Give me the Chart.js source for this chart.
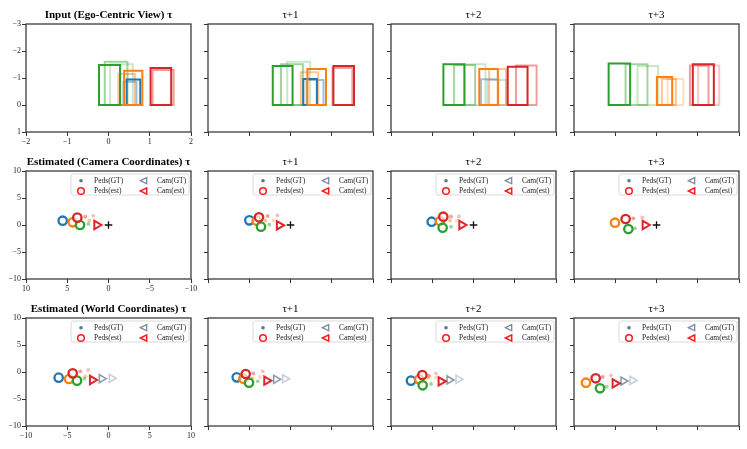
<!DOCTYPE html>
<html>
<head>
<meta charset="utf-8">
<script src="https://cdn.jsdelivr.net/npm/chart.js@4.4.1/dist/chart.umd.min.js"></script>
<style>
  body { margin: 0; background: #fff; }
  #page { position: relative; width: 747px; height: 449px; overflow: hidden; background: #fff;
          font-family: "Liberation Serif", "DejaVu Serif", serif; }
  #page canvas { position: absolute; }
  .ttl { position: absolute; width: 165px; text-align: center; font-size: 11px; line-height: 12px;
         color: #000; white-space: nowrap; }
</style>
</head>
<body>
<div id="page"></div>
<script>
// ---- titles ----
const rowTitles = ['Input (Ego-Centric View) τ', 'Estimated (Camera Coordinates) τ', 'Estimated (World Coordinates) τ'];
const colTitles = ['τ+1', 'τ+2', 'τ+3'];

// ---- row 1: boxes [person, frame, x1, x2, top] ----
const egoBoxes0 = [[2,0,-0.23,0.28,-1.48],[2,1,-0.09,0.46,-1.60],[2,2,0.04,0.59,-1.51],
                   [1,0,0.38,0.82,-1.27],[1,1,0.24,0.64,-1.15],
                   [0,0,0.44,0.77,-0.94],[0,1,0.36,0.68,-0.86],
                   [3,0,1.02,1.52,-1.37],[3,1,1.07,1.58,-1.30]];
const egoBoxes1 = [[2,0,-0.43,0.05,-1.44],[2,1,-0.23,0.30,-1.51],[2,2,-0.08,0.47,-1.60],
                   [1,0,0.41,0.86,-1.33],[1,1,0.25,0.67,-1.21],
                   [0,0,0.31,0.64,-0.96],[0,1,0.39,0.80,-0.93],
                   [3,0,1.04,1.54,-1.44],[3,1,1.02,1.50,-1.37]];
const egoBoxes2 = [[2,0,-0.73,-0.22,-1.51],[2,1,-0.47,0.04,-1.48],[2,2,-0.22,0.29,-1.51],
                   [1,0,0.14,0.59,-1.33],[1,1,0.38,0.79,-1.33],
                   [0,1,0.18,0.60,-0.95],[0,2,0.34,0.79,-0.93],
                   [3,0,0.83,1.31,-1.42],[3,1,1.03,1.53,-1.46]];
const egoBoxes3 = [[2,0,-1.16,-0.64,-1.54],[2,1,-0.75,-0.22,-1.51],[2,2,-0.46,0.04,-1.44],
                   [1,0,0.01,0.38,-1.04],[1,1,0.13,0.47,-0.96],[1,2,0.27,0.65,-0.96],
                   [3,0,0.88,1.39,-1.51],[3,1,0.81,1.26,-1.46],[3,2,1.01,1.52,-1.46]];

// ---- row 2: camera coordinates ----
// estimated pedestrians, per person (blue, orange, green, red)
const camEst0 = [[5.55,0.8],[4.34,0.5],[3.45,0.0],[3.78,1.36]];
const camEst1 = [[4.99,0.86],[4.1,0.8],[3.58,-0.31],[3.82,1.42]];
const camEst2 = [[5.07,0.61],[4.06,0.74],[3.74,-0.5],[3.66,1.54]];
const camEst3 = [null,[5.03,0.43],[3.41,-0.74],[3.74,1.11]];
// faded GT trail [person, frame, x, y]
const camTrail0 = [[3,1,2.81,1.54],[3,2,1.84,1.73],[1,1,2.33,0.8],[2,1,2.45,0.19]];
const camTrail1 = [[3,1,2.77,1.67],[3,2,1.6,1.8],[1,1,3.05,0.8],[1,2,2.08,0.86],[2,1,2.57,0.06]];
const camTrail2 = [[1,1,2.85,0.8],[3,1,2.73,1.54],[3,2,1.76,1.6],[1,2,2.04,0.8],[2,1,2.73,-0.31]];
const camTrail3 = [[3,1,2.81,1.24],[3,2,1.72,1.42],[2,1,2.61,-0.62]];
const camCamEst = [[1.43,0],[1.36,-0.06],[1.43,0],[1.39,0]];
const camOrigin = [0, 0];

// ---- row 3: world coordinates ----
const worldEst0 = [[-6.04,-1.05],[-4.79,-1.3],[-3.82,-1.6],[-4.34,-0.25]];
const worldEst1 = [[-6.52,-0.99],[-5.72,-1.24],[-5.03,-1.98],[-5.43,-0.37]];
const worldEst2 = [[-7.58,-1.6],[-6.57,-1.36],[-6.16,-2.46],[-6.2,-0.56]];
const worldEst3 = [null,[-8.55,-1.98],[-6.85,-3.02],[-7.37,-1.17]];
const worldTrail0 = [[3,1,-3.42,0.13],[3,2,-2.45,0.37],[1,1,-2.81,-0.8],[2,1,-2.93,-1.23]];
const worldTrail1 = [[3,1,-4.51,-0.25],[3,2,-3.37,0.13],[1,1,-4.63,-1.17],[1,2,-3.7,-0.93],[2,1,-3.98,-1.73]];
const worldTrail2 = [[3,1,-5.39,-0.68],[3,2,-4.55,-0.25],[1,1,-5.45,-1.05],[1,2,-4.58,-1.05],[2,1,-5.15,-2.22]];
const worldTrail3 = [[3,1,-6.52,-0.93],[3,2,-5.52,-0.62],[2,1,-6.04,-2.72]];
const worldCamEst = [[-1.96,-1.48],[-2.89,-1.6],[-3.94,-1.73],[-5.03,-2.1]];
const worldCamGt = [[[-0.83,-1.23],[0.38,-1.17]], [[-1.76,-1.36],[-0.67,-1.24]],
                    [[-2.93,-1.48],[-1.84,-1.36]], [[-4.02,-1.67],[-2.93,-1.54]]];

// axis ranges [min, max, step, reverse]
const axisX = [[-2,2,1,false], [-10,10,5,true], [-10,10,5,false]];
const axisY = [[-3,1,1,true], [-10,10,5,false], [-10,10,5,false]];

// ---- look ----
const personColors = [[31,119,180],[255,127,14],[44,160,44],[214,39,40]];
const frameAlpha = [1, 0.45, 0.25];
const trailAlpha = [1, 0.45, 0.3];
const serif = '"Liberation Serif", "DejaVu Serif", serif';
const colLeft = [26, 208, 391, 574];
const rowTop = [24, 171, 318];
const plotW = 165, plotH = 108;
const padL = 30, padT = 8, padR = 10, padB = 16;

function rgba(c, a) {
    return 'rgba(' + c[0] + ',' + c[1] + ',' + c[2] + ',' + a + ')';
}

const framePlugin = {
    id: 'frame',
    afterDatasetsDraw(chart) {
        let ctx = chart.ctx, a = chart.chartArea;
        ctx.save();
        ctx.strokeStyle = '#3c3c3c';
        ctx.lineWidth = 1.3;
        ctx.strokeRect(a.left, a.top, a.right - a.left, a.bottom - a.top);
        ctx.restore();
    }
};

function leftTriangle(ctx, x, y, r) {
    ctx.beginPath();
    ctx.moveTo(x - r, y);
    ctx.lineTo(x + r * 0.75, y - r * 0.85);
    ctx.lineTo(x + r * 0.75, y + r * 0.85);
    ctx.closePath();
    ctx.stroke();
}

const legendPlugin = {
    id: 'legendBox',
    afterDraw(chart, args, opts) {
        if(!opts.show) return;
        let ctx = chart.ctx, a = chart.chartArea;
        let bx = a.right - 120, by = a.top + 3;
        ctx.save();
        ctx.fillStyle = 'rgba(255,255,255,0.85)';
        ctx.strokeStyle = '#d2d2d2';
        ctx.lineWidth = 0.8;
        ctx.beginPath();
        ctx.roundRect(bx, by, 118, 21, 2);
        ctx.fill();
        ctx.stroke();

        let r1 = a.top + 9.7, r2 = a.top + 20;
        let m1 = a.right - 110, m2 = a.right - 47;
        // Peds(GT)
        ctx.fillStyle = '#627488';
        ctx.beginPath();
        ctx.arc(m1, r1, 1.8, 0, Math.PI * 2);
        ctx.fill();
        // Peds(est)
        ctx.strokeStyle = '#ff1a1a';
        ctx.lineWidth = 1.5;
        ctx.beginPath();
        ctx.arc(m1, r2, 3.3, 0, Math.PI * 2);
        ctx.stroke();
        // Cam(GT)
        ctx.strokeStyle = '#7d8ca3';
        ctx.lineWidth = 1.3;
        leftTriangle(ctx, m2, r1, 3.6);
        // Cam(est)
        ctx.strokeStyle = '#ff1a1a';
        ctx.lineWidth = 1.5;
        leftTriangle(ctx, m2, r2, 3.6);

        ctx.fillStyle = '#222';
        ctx.font = '7.5px ' + serif;
        ctx.textBaseline = 'middle';
        ctx.fillText('Peds(GT)', a.right - 97, r1);
        ctx.fillText('Peds(est)', a.right - 97, r2);
        ctx.fillText('Cam(GT)', a.right - 34, r1);
        ctx.fillText('Cam(est)', a.right - 34, r2);
        ctx.restore();
    }
};

function boxDatasets(boxes) {
    return boxes.map(b => {
        let c = personColors[b[0]];
        return {
            data: [{x: b[2], y: 0}, {x: b[2], y: b[4]}, {x: b[3], y: b[4]}, {x: b[3], y: 0}, {x: b[2], y: 0}],
            showLine: true,
            pointRadius: 0,
            borderColor: rgba(c, frameAlpha[b[1]]),
            borderWidth: 2,
            borderJoinStyle: 'miter',
            borderCapStyle: 'square',
            fill: false,
            tension: 0,
            order: 3 + b[1]
        };
    });
}

function pointDatasets(est, trail, camEst, camGt, showOrigin) {
    let sets = [];
    let estPts = [], estCols = [];
    est.forEach((p, i) => {
        if(p) {
            estPts.push({x: p[0], y: p[1]});
            estCols.push(rgba(personColors[i], 1));
        }
    });
    sets.push({
        data: trail.map(t => ({x: t[2], y: t[3]})),
        pointRadius: 1.9,
        pointBorderWidth: 0,
        pointBackgroundColor: trail.map(t => rgba(personColors[t[0]], trailAlpha[t[1]])),
        order: 6
    });
    sets.push({
        data: estPts,
        pointRadius: 4.2,
        pointBorderWidth: 2.3,
        pointBorderColor: estCols,
        pointBackgroundColor: 'rgba(255,255,255,0.6)',
        order: 2
    });
    if(camGt) {
        sets.push({
            data: camGt.map(p => ({x: p[0], y: p[1]})),
            pointStyle: 'triangle',
            rotation: 90,
            pointRadius: 4.6,
            pointBorderWidth: 1.6,
            pointBorderColor: ['rgba(120,136,160,0.85)', 'rgba(120,136,160,0.4)'],
            pointBackgroundColor: 'rgba(255,255,255,0)',
            order: 4
        });
    }
    sets.push({
        data: [{x: camEst[0], y: camEst[1]}],
        pointStyle: 'triangle',
        rotation: 90,
        pointRadius: 4.8,
        pointBorderWidth: 2,
        pointBorderColor: '#e0242b',
        pointBackgroundColor: 'rgba(255,255,255,0)',
        order: 1
    });
    if(showOrigin) {
        sets.push({
            data: [{x: camOrigin[0], y: camOrigin[1]}],
            pointStyle: 'cross',
            pointRadius: 3.8,
            pointBorderWidth: 1.3,
            pointBorderColor: '#111',
            order: 0
        });
    }
    return sets;
}

function axis(def, showLabels, fitFn) {
    return {
        type: 'linear',
        min: def[0],
        max: def[1],
        reverse: def[3],
        afterFit: fitFn,
        border: {display: false},
        grid: {display: true, drawOnChartArea: false, drawTicks: true, tickLength: 4, tickColor: '#333', tickWidth: 1},
        ticks: {
            stepSize: def[2],
            padding: 1,
            color: '#222',
            font: {family: serif, size: 8},
            callback: v => showLabels ? String(v).replace('-', '\u2212') : ''
        }
    };
}

function makePanel(row, col, datasets) {
    let page = document.getElementById('page');
    let canvas = document.createElement('canvas');
    canvas.width = padL + plotW + padR;
    canvas.height = padT + plotH + padB;
    canvas.style.left = (colLeft[col] - padL) + 'px';
    canvas.style.top = (rowTop[row] - padT) + 'px';
    page.appendChild(canvas);

    let title = document.createElement('div');
    title.className = 'ttl';
    title.style.left = colLeft[col] + 'px';
    title.style.top = (rowTop[row] - 16) + 'px';
    if(col === 0) {
        title.innerText = rowTitles[row];
        title.style.fontWeight = 'bold';
    } else {
        title.innerText = colTitles[col - 1];
    }
    page.appendChild(title);

    new Chart(canvas.getContext('2d'), {
        type: 'scatter',
        data: {datasets: datasets},
        options: {
            responsive: false,
            maintainAspectRatio: false,
            animation: false,
            layout: {padding: {top: padT, right: padR, left: 0, bottom: 0}},
            plugins: {
                legend: {display: false},
                tooltip: {enabled: false},
                legendBox: {show: row > 0}
            },
            scales: {
                x: axis(axisX[row], col === 0, s => { s.height = padB; }),
                y: axis(axisY[row], col === 0, s => { s.width = padL; })
            }
        },
        plugins: [framePlugin, legendPlugin]
    });
}

const egoBoxes = [egoBoxes0, egoBoxes1, egoBoxes2, egoBoxes3];
const camEst = [camEst0, camEst1, camEst2, camEst3];
const camTrail = [camTrail0, camTrail1, camTrail2, camTrail3];
const worldEst = [worldEst0, worldEst1, worldEst2, worldEst3];
const worldTrail = [worldTrail0, worldTrail1, worldTrail2, worldTrail3];

for(let c = 0; c < 4; c++) {
    makePanel(0, c, boxDatasets(egoBoxes[c]));
    makePanel(1, c, pointDatasets(camEst[c], camTrail[c], camCamEst[c], null, true));
    makePanel(2, c, pointDatasets(worldEst[c], worldTrail[c], worldCamEst[c], worldCamGt[c], false));
}
</script>
</body>
</html>
